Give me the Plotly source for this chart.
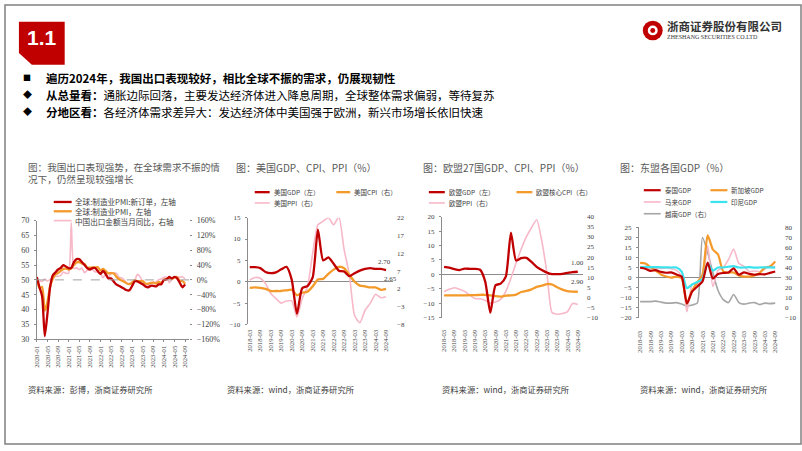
import plotly.graph_objects as go

W, H = 802, 451

# ---------------- data ----------------
# Chart 1: monthly 2020-01 .. 2024-09
c1_ticktext = ["2020-01", "2020-05", "2020-09", "2021-01", "2021-05", "2021-09", "2022-01",
               "2022-05", "2022-09", "2023-01", "2023-05", "2023-09", "2024-01", "2024-05", "2024-09"]
pmi_new_orders = [51.0, 47.5, 44.5, 31.0, 38.5, 47.5, 51.5, 52.5, 53.5, 54.0, 55.0, 54.5,
                  54.0, 54.0, 56.0, 57.0, 57.0, 56.0, 55.0, 54.0, 53.5, 54.0, 54.0, 53.0,
                  52.0, 53.0, 52.0, 50.5, 50.5, 49.5, 48.5, 48.0, 47.5, 47.0, 46.5, 46.5,
                  48.0, 49.5, 49.5, 49.0, 48.5, 47.8, 47.5, 48.0, 48.0, 47.8, 48.5, 48.5,
                  50.0, 50.2, 51.0, 50.5, 51.0, 50.5, 49.0, 47.5, 48.5]
pmi = [50.4, 47.2, 47.6, 39.6, 42.4, 47.8, 50.3, 51.8, 52.3, 53.0, 53.7, 53.8,
       53.5, 53.9, 55.0, 55.9, 56.0, 55.5, 55.4, 54.1, 54.1, 54.2, 54.2, 54.3,
       53.2, 53.7, 53.0, 52.2, 52.3, 52.2, 51.1, 50.3, 49.8, 49.4, 48.8, 48.6,
       49.1, 49.9, 49.6, 49.6, 49.6, 48.8, 48.7, 49.0, 49.1, 48.8, 49.3, 49.0,
       50.0, 50.3, 50.6, 50.3, 50.9, 50.9, 49.7, 49.6, 48.7]
export_yoy = [-3.0, -3.0, -4.0, 2.0, -3.0, 0.5, 7.2, 9.5, 9.9, 11.4, 21.1, 18.1,
              18.0, 155.0, 30.6, 32.3, 27.9, 32.2, 19.3, 25.6, 28.1, 27.1, 22.0, 20.9,
              16.3, 6.2, 14.7, 3.9, 16.9, 17.9, 18.0, 7.1, 5.7, -0.3, -8.9, -9.9,
              -10.5, -1.3, 14.8, 8.5, -7.5, -12.4, -14.5, -8.8, -6.2, -6.4, 0.5, 2.3,
              7.1, 7.1, -7.5, 1.5, 7.6, 8.6, 7.0, 8.7, 2.4]

# Charts 2-4: quarterly 2018-03 .. 2024-09
q_ticktext = ["2018-03", "2018-09", "2019-03", "2019-09", "2020-03", "2020-09", "2021-03",
              "2021-09", "2022-03", "2022-09", "2023-03", "2023-09", "2024-03", "2024-09"]
us_gdp = [3.4, 3.4, 3.2, 2.3, 2.0, 2.2, 2.9, 3.5, 0.5, -7.5, -1.5, -1.0, 1.0, 12.2,
          5.0, 5.7, 4.2, 2.6, 2.4, 1.3, 2.0, 2.6, 3.0, 3.2, 3.0, 3.0, 2.7]
us_cpi = [2.3, 2.4, 2.3, 2.0, 1.4, 1.4, 1.4, 1.6, 1.8, 0.2, 0.9, 1.2, 2.7, 4.6,
          4.8, 6.2, 7.4, 8.2, 7.8, 5.9, 4.0, 2.9, 2.7, 2.4, 2.4, 1.7, 2.0]
us_ppi = [4.5, 5.2, 5.0, 3.5, 0.7, -0.7, -2.0, -1.4, -1.4, -5.9, -0.7, 2.6, 12.0, 20.0,
          21.0, 22.0, 20.0, 22.2, 13.0, 6.0, -5.5, -7.5, -4.0, -2.0, 0.5, -0.5, -0.2]
eu_gdp = [2.6, 2.3, 1.8, 1.5, 2.0, 1.9, 1.9, 1.6, -2.5, -13.3, -3.8, -3.2, -0.8, 14.5,
          4.8, 5.6, 5.7, 4.3, 2.6, 1.5, 0.6, 0.1, 0.1, 0.2, 0.5, 0.8, 0.9]
eu_core_cpi = [1.0, 1.0, 1.0, 1.0, 1.0, 1.1, 1.1, 1.3, 1.3, 1.0, 0.6, 0.4, 0.9, 1.0,
               1.4, 2.7, 3.2, 4.0, 5.2, 5.8, 6.6, 6.4, 5.0, 3.9, 3.1, 2.9, 2.8]
eu_ppi = [2.8, 4.0, 4.8, 4.0, 3.0, 1.0, -0.5, -0.7, -1.5, -2.8, -2.3, -1.0, 3.0, 9.5,
          17.0, 24.0, 30.0, 34.5, 38.5, 28.0, 12.0, -7.5, -8.3, -8.0, -7.0, -3.0, -3.5]
th_gdp = [4.9, 4.4, 3.3, 3.7, 2.8, 2.4, 2.6, 1.5, 0.5, -13.0, -7.0, -4.5, -2.0, 7.5,
          -0.5, 1.8, 2.3, 2.5, 4.6, 1.4, 2.6, 1.8, 1.4, 1.7, 1.6, 2.3, 3.0]
sg_gdp = [7.3, 7.0, 5.2, 3.5, 1.5, 0.5, 0.0, 0.5, -0.4, -13.0, -6.5, -2.4, 1.5, 21.0,
          14.0, 11.5, 3.0, 2.5, 2.5, 1.0, 0.5, 0.5, 1.0, 2.2, 5.0, 5.5, 8.0]
my_gdp = [5.4, 4.5, 4.4, 4.7, 4.5, 4.8, 4.4, 3.6, 0.7, -17.1, -3.5, -3.4, -0.5, 16.0,
          -4.5, 3.6, 5.0, 8.9, 14.2, 7.0, 5.6, 2.9, 3.3, 2.9, 4.2, 5.9, 5.3]
id_gdp = [5.1, 5.3, 5.2, 5.2, 5.1, 5.1, 5.0, 5.0, 3.0, -5.3, -3.5, -2.2, -0.7, 7.1,
          3.5, 5.0, 5.0, 5.4, 5.7, 5.0, 5.0, 5.2, 4.9, 5.0, 5.1, 5.05, 4.95]
vn_gdp = [6.0, 6.0, 6.0, 6.5, 5.5, 4.5, 4.5, 5.0, 3.5, 1.5, 2.5, 4.5, 70.0, 55.0,
          35.0, 17.0, 8.0, 5.0, 13.0, 5.0, 3.5, 4.5, 5.0, 3.0, 4.5, 4.0, 4.5]

# ---------------- style ----------------
RED = "#C00000"
ORANGE = "#F39A2B"
PINK = "#F7B8C8"
CYAN = "#3BE3EE"
GRAY = "#A6A6A6"
AX = "#8C8C8C"
SERIF = "Liberation Serif, Times New Roman, serif"
CJK = "Noto Sans CJK SC, sans-serif"
TXT = "#404040"


def px(x):
    return x / W


def py(y):
    return 1 - y / H


def dx(a, b):
    return [px(a), px(b)]


def dy(top, bottom):
    return [py(bottom), py(top)]


fig = go.Figure()

m1 = list(range(len(pmi)))
mq = [3 * i for i in range(len(us_gdp))]


def line(x, y, xa, ya, color, width):
    fig.add_trace(go.Scatter(x=x, y=y, xaxis=xa, yaxis=ya, mode="lines",
                             line=dict(color=color, width=width, shape="spline", smoothing=0.6),
                             hoverinfo="skip"))


# chart 1 : base y = right axis, y2 = left axis overlay
line(m1, export_yoy, "x", "y", PINK, 1.6)
line(m1, pmi, "x", "y2", ORANGE, 2.3)
line(m1, pmi_new_orders, "x", "y2", RED, 2.3)
# chart 2
line(mq, us_ppi, "x2", "y3", PINK, 1.6)
line(mq, us_cpi, "x2", "y3", ORANGE, 2.3)
line(mq, us_gdp, "x2", "y4", RED, 2.3)
# chart 3
line(mq, eu_ppi, "x3", "y5", PINK, 1.6)
line(mq, eu_core_cpi, "x3", "y5", ORANGE, 2.3)
line(mq, eu_gdp, "x3", "y6", RED, 2.3)
# chart 4
line(mq, vn_gdp, "x4", "y7", GRAY, 1.6)
line(mq, my_gdp, "x4", "y8", PINK, 1.6)
line(mq, sg_gdp, "x4", "y8", ORANGE, 2.2)
line(mq, id_gdp, "x4", "y8", CYAN, 2.2)
line(mq, th_gdp, "x4", "y8", RED, 2.2)

tickf_x = dict(family=SERIF, size=6.6, color=TXT)


def xaxis(domain, rng, tickvals, ticktext, anchor, showline, standoff):
    return dict(domain=domain, range=rng, anchor=anchor, tickmode="array", tickvals=tickvals,
                ticktext=ticktext, tickangle=-90, tickfont=tickf_x, showgrid=False, zeroline=False,
                showline=showline, linecolor=AX, linewidth=1,
                ticks="outside" if showline else "", ticklen=2, tickcolor=AX,
                ticklabelstandoff=standoff, fixedrange=True)


def yleft(rng, dtick, anchor, overlay, size=7):
    return dict(range=rng, anchor=anchor, overlaying=overlay, side="left", tickmode="linear",
                tick0=rng[0], dtick=dtick, tickfont=dict(family=SERIF, size=size, color=TXT),
                showgrid=False, showline=True, linecolor=AX, linewidth=1, ticks="outside",
                ticklen=2, tickcolor=AX, zeroline=True, zerolinecolor=AX, zerolinewidth=1,
                ticklabelstandoff=3)


def yright(domain, rng, dtick, anchor, suffix="", ticks="", size=7):
    return dict(domain=domain, range=rng, anchor=anchor, side="right", tickmode="linear",
                tick0=rng[0], dtick=dtick, ticksuffix=suffix,
                tickfont=dict(family=SERIF, size=size, color=TXT), showgrid=False,
                showline=False, zeroline=False, ticks=ticks, ticklen=2, tickcolor=AX,
                ticklabelstandoff=3)


layout = dict(
    width=W, height=H, autosize=False, margin=dict(l=0, r=0, t=0, b=0),
    paper_bgcolor="white", plot_bgcolor="white", showlegend=False,
    xaxis=xaxis(dx(33, 186), [0, 57.5], list(range(0, 57, 4)), c1_ticktext, "y", True, 1),
    yaxis=yright(dy(221, 342), [-160, 160], 40, "x", suffix="%", ticks="outside", size=8),
    yaxis2=dict(yleft([30, 70], 5, "x", "y", size=8), zeroline=False),
    xaxis2=xaxis(dx(245, 391), [-1.14, 82], list(range(0, 79, 6)), q_ticktext, "y3", False, 3),
    yaxis3=yright(dy(218, 327), [-8, 22], 5, "x2"),
    yaxis4=yleft([-10, 15], 5, "x2", "y3"),
    xaxis3=xaxis(dx(440, 582), [-1.33, 81.1], list(range(0, 79, 6)), q_ticktext, "y5", False, 10),
    yaxis5=yright(dy(217, 320), [-10, 40], 5, "x3"),
    yaxis6=yleft([-15, 20], 5, "x3", "y5"),
    xaxis4=xaxis(dx(638, 781), [-0.75, 81.4], list(range(0, 79, 6)), q_ticktext, "y7", False, 11),
    yaxis7=yright(dy(228, 320), [-10, 80], 10, "x4"),
    yaxis8=yleft([-20, 25], 5, "x4", "y7"),
)
fig.update_layout(**layout)

shapes = []
ann = []


def text(x, y, s, size, color=TXT, family=CJK, anchor="left"):
    ann.append(dict(x=px(x), y=py(y), xref="paper", yref="paper", text=s, showarrow=False,
                    xanchor=anchor, yanchor="middle", align="left",
                    font=dict(family=family, size=size, color=color)))


def seg(x0, x1, y, color, width, dash="solid"):
    shapes.append(dict(type="line", xref="paper", yref="paper", x0=px(x0), x1=px(x1),
                       y0=py(y), y1=py(y), line=dict(color=color, width=width, dash=dash)))


# slide border
shapes.append(dict(type="rect", xref="paper", yref="paper", x0=px(1), x1=px(801), y0=py(449), y1=py(1),
                   line=dict(color="#808080", width=1.5), fillcolor="rgba(0,0,0,0)"))

# header red tab
pts = [(15, 18), (61, 18), (61, 62), (28, 62), (15, 50)]
path = "M " + " L ".join(f"{px(a):.5f},{py(b):.5f}" for a, b in pts) + " Z"
shapes.append(dict(type="path", xref="paper", yref="paper", path=path, fillcolor=RED, line=dict(width=0)))
text(38, 34, "<b>1.1</b>", 21, "white", "Liberation Sans, Arial, sans-serif", "center")

# logo
shapes.append(dict(type="circle", xref="paper", yref="paper", x0=px(642), x1=px(662), y0=py(37), y1=py(17),
                   fillcolor=RED, line=dict(width=0)))
shapes.append(dict(type="circle", xref="paper", yref="paper", x0=px(647), x1=px(657), y0=py(32), y1=py(22),
                   fillcolor="white", line=dict(width=0)))
shapes.append(dict(type="circle", xref="paper", yref="paper", x0=px(649.5), x1=px(654.5), y0=py(29.5), y1=py(24.5),
                   fillcolor=RED, line=dict(width=0)))
text(664, 22, "<b>浙商证券股份有限公司</b>", 11.5, "#333333")
text(664, 34, "ZHESHANG SECURITIES CO.LTD", 6, "#333333", SERIF)

# bullets
BF = 11.5
text(17, 75, "■", 8, "#000000")
text(17, 92.5, "◆", 9, "#000000")
text(17, 110, "◆", 9, "#000000")
text(40, 75, "<b>遍历2024年，我国出口表现较好，相比全球不振的需求，仍展现韧性</b>", BF, "#000000")
text(40, 92.5, "<b>从总量看：</b>通胀边际回落，主要发达经济体进入降息周期，全球整体需求偏弱，等待复苏", BF, "#000000")
text(40, 110, "<b>分地区看：</b>各经济体需求差异大：发达经济体中美国强于欧洲，新兴市场增长依旧快速", BF, "#000000")

# chart titles
TC = "#595959"
text(22, 172.5, "图：我国出口表现强势，在全球需求不振的情<br>况下，仍然呈现较强增长", 9.6, TC)
text(231, 167, "图：美国GDP、CPI、PPI（%）", 10, TC)
text(419, 167, "图：欧盟27国GDP、CPI、PPI（%）", 10, TC)
text(617, 167, "图：东盟各国GDP（%）", 10, TC)

# legends
LS = 6.5
seg(50, 68, 202, RED, 2.3)
seg(50, 68, 211.5, ORANGE, 2.3)
seg(50, 68, 221, PINK, 1.6)
text(69, 211.5, "全球:制造业PMI:新订单，左轴<br>全球:制造业PMI，左轴<br>中国出口金额当月同比，右轴", 7.6)

seg(252, 267, 192, RED, 2.3); text(269, 192, "美国GDP（左）", LS)
seg(334, 348, 192, ORANGE, 2.3); text(350, 192, "美国CPI（右）", LS)
seg(252, 267, 203, PINK, 1.6); text(269, 203, "美国PPI（右）", LS)

seg(427, 443, 192, RED, 2.3); text(445, 192, "欧盟GDP（左）", LS)
seg(515, 531, 192, ORANGE, 2.3); text(533, 192, "欧盟核心CPI（右）", LS)
seg(427, 443, 203, PINK, 1.6); text(445, 203, "欧盟PPI（右）", LS)

seg(643, 660, 190, RED, 2.2); text(662, 190, "泰国GDP", LS)
seg(710, 727, 190, ORANGE, 2.2); text(729, 190, "新加坡GDP", LS)
seg(643, 660, 202, PINK, 1.6); text(662, 202, "马来GDP", LS)
seg(710, 727, 202, CYAN, 2.2); text(729, 202, "印尼GDP", LS)
seg(643, 660, 214, GRAY, 1.6); text(662, 214, "越南GDP（右）", LS)

# value labels
text(382, 263, "2.70", 7, TXT, SERIF, "center")
text(388, 281, "2.65", 7, TXT, SERIF, "center")
text(576, 264, "1.00", 7, TXT, SERIF, "center")
text(576, 284, "2.90", 7, TXT, SERIF, "center")

# dashed reference line at 50 in chart 1
shapes.append(dict(type="line", xref="x domain", yref="y2", x0=0, x1=1, y0=50, y1=50,
                   line=dict(color="#A0A0A0", width=1, dash="dash")))

# sources
text(22, 393, "资料来源：彭博，浙商证券研究所", 8.3, TXT)
text(222, 393, "资料来源：wind，浙商证券研究所", 8.3, TXT)
text(438, 393, "资料来源：wind，浙商证券研究所", 8.3, TXT)
text(637, 393, "资料来源：wind，浙商证券研究所", 8.3, TXT)

fig.update_layout(shapes=shapes, annotations=ann)
fig.write_html("out.html", config={"displayModeBar": False},
               post_script="document.body.style.margin='0';document.body.style.padding='0';"
                           "document.documentElement.style.overflow='hidden';")
